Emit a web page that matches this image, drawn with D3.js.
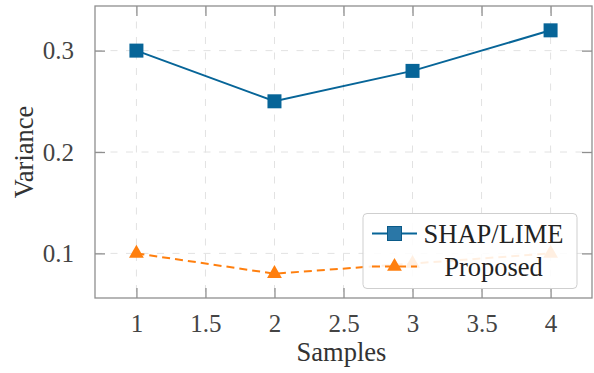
<!DOCTYPE html>
<html>
<head>
<meta charset="utf-8">
<script src="https://cdn.jsdelivr.net/npm/d3@7"></script>
<style>
  body { margin: 0; background: #fff; }
  svg { display: block; font-family: "Liberation Serif", "DejaVu Serif", serif; }
</style>
</head>
<body>
<div id="chart"></div>
<script>
// Data
const samples = [1, 2, 3, 4];
const shapLime = [0.30, 0.25, 0.28, 0.32];
const proposed = [0.10, 0.08, 0.09, 0.10];
const xTicks = [1, 1.5, 2, 2.5, 3, 3.5, 4];
const yTicks = [0.1, 0.2, 0.3];
const seriesNames = ['SHAP/LIME', 'Proposed'];

const W = 594, H = 373;
const margin = { top: 6, right: 2, bottom: 75, left: 95 };
const width = W - margin.left - margin.right;
const height = H - margin.top - margin.bottom;

const blue = '#076598';
const orange = '#ff7f0e';
const frameColor = '#8f8f8f';

const svg = d3.select('#chart')
    .append('svg')
    .attr('width', W)
    .attr('height', H);

const g = svg.append('g')
    .attr('transform', `translate(${margin.left},${margin.top})`);

// Scales (pgfplots-style 10% enlarged limits)
const x = d3.scaleLinear().domain([0.7, 4.3]).range([0, width]);
const y = d3.scaleLinear().domain([0.056, 0.344]).range([height, 0]);

// Grid lines
g.append('g')
    .selectAll('line')
    .data(xTicks)
    .join('line')
    .attr('x1', d => x(d)).attr('x2', d => x(d))
    .attr('y1', 0).attr('y2', height)
    .attr('stroke', '#e2e2e2')
    .attr('stroke-width', 1)
    .attr('stroke-dasharray', '7,8.5');

g.append('g')
    .selectAll('line')
    .data(yTicks)
    .join('line')
    .attr('x1', 0).attr('x2', width)
    .attr('y1', d => y(d)).attr('y2', d => y(d))
    .attr('stroke', '#e2e2e2')
    .attr('stroke-width', 1)
    .attr('stroke-dasharray', '7,8.5');

// Axes with inward ticks, mirrored on all four sides
const tickLen = 10;
const styleAxis = sel => {
    sel.select('.domain').remove();
    sel.selectAll('.tick line').attr('stroke', frameColor).attr('stroke-width', 1.3);
    sel.selectAll('.tick text')
        .attr('fill', '#444')
        .style('font-size', '25px')
        .style('font-family', '"Liberation Serif", serif');
};

g.append('g')
    .attr('transform', `translate(0,${height})`)
    .call(d3.axisBottom(x).tickValues(xTicks).tickSizeInner(-tickLen).tickSizeOuter(0)
        .tickPadding(16).tickFormat(d3.format('')))
    .call(styleAxis);

g.append('g')
    .call(d3.axisTop(x).tickValues(xTicks).tickSizeInner(-tickLen).tickSizeOuter(0).tickFormat(''))
    .call(styleAxis);

g.append('g')
    .call(d3.axisLeft(y).tickValues(yTicks).tickSizeInner(-tickLen).tickSizeOuter(0)
        .tickPadding(21).tickFormat(d3.format('.1f')))
    .call(styleAxis);

g.append('g')
    .attr('transform', `translate(${width},0)`)
    .call(d3.axisRight(y).tickValues(yTicks).tickSizeInner(-tickLen).tickSizeOuter(0).tickFormat(''))
    .call(styleAxis);

// Frame
g.append('rect')
    .attr('x', 0).attr('y', 0)
    .attr('width', width).attr('height', height)
    .attr('fill', 'none')
    .attr('stroke', frameColor)
    .attr('stroke-width', 1.3);

// Lines
const line = d3.line()
    .x((d, i) => x(samples[i]))
    .y(d => y(d));

g.append('path')
    .datum(shapLime)
    .attr('fill', 'none')
    .attr('stroke', blue)
    .attr('stroke-width', 2)
    .attr('d', line);

g.append('path')
    .datum(proposed)
    .attr('fill', 'none')
    .attr('stroke', orange)
    .attr('stroke-width', 2)
    .attr('stroke-dasharray', '8,5')
    .attr('d', line);

// Markers
const squareSize = 14;
g.selectAll('.sq')
    .data(shapLime)
    .join('rect')
    .attr('class', 'sq')
    .attr('x', (d, i) => x(samples[i]) - squareSize / 2)
    .attr('y', d => y(d) - squareSize / 2)
    .attr('width', squareSize)
    .attr('height', squareSize)
    .attr('fill', blue);

const triangle = d3.symbol().type(d3.symbolTriangle).size(95);
g.selectAll('.tri')
    .data(proposed)
    .join('path')
    .attr('class', 'tri')
    .attr('transform', (d, i) => `translate(${x(samples[i])},${y(d)})`)
    .attr('d', triangle)
    .attr('fill', orange);

// Axis labels
svg.append('text')
    .attr('x', margin.left + width / 2 - 2)
    .attr('y', 361)
    .attr('text-anchor', 'middle')
    .attr('fill', '#333')
    .style('font-size', '26.5px')
    .text('Samples');

svg.append('text')
    .attr('transform', `translate(33,${margin.top + height / 2}) rotate(-90)`)
    .attr('text-anchor', 'middle')
    .attr('fill', '#333')
    .style('font-size', '26.5px')
    .text('Variance');

// Legend
const legend = svg.append('g').attr('transform', 'translate(363,213.5)');
legend.append('rect')
    .attr('width', 214).attr('height', 75)
    .attr('rx', 4).attr('ry', 4)
    .attr('fill', '#fff')
    .attr('fill-opacity', 0.88)
    .attr('stroke', '#cfcfcf')
    .attr('stroke-width', 1);

const entries = [
    { name: seriesNames[0], color: blue, dash: null, marker: 'square', cy: 20 },
    { name: seriesNames[1], color: orange, dash: '8,5', marker: 'triangle', cy: 53 }
];

entries.forEach(e => {
    const row = legend.append('g').attr('transform', `translate(0,${e.cy})`);
    row.append('line')
        .attr('x1', 9).attr('x2', 54)
        .attr('stroke', e.color)
        .attr('stroke-width', 2)
        .attr('stroke-dasharray', e.dash);
    if (e.marker === 'square') {
        row.append('rect')
            .attr('x', 31.5 - 7).attr('y', -7)
            .attr('width', 14).attr('height', 14)
            .attr('fill', '#2a77a7')
            .attr('stroke', '#0a5a88')
            .attr('stroke-width', 1);
    } else {
        row.append('path')
            .attr('transform', 'translate(31.5,0)')
            .attr('d', triangle)
            .attr('fill', e.color);
    }
    row.append('text')
        .attr('x', 130.5)
        .attr('y', 9)
        .attr('text-anchor', 'middle')
        .attr('fill', '#222')
        .style('font-size', '26.5px')
        .text(e.name);
});
</script>
</body>
</html>
